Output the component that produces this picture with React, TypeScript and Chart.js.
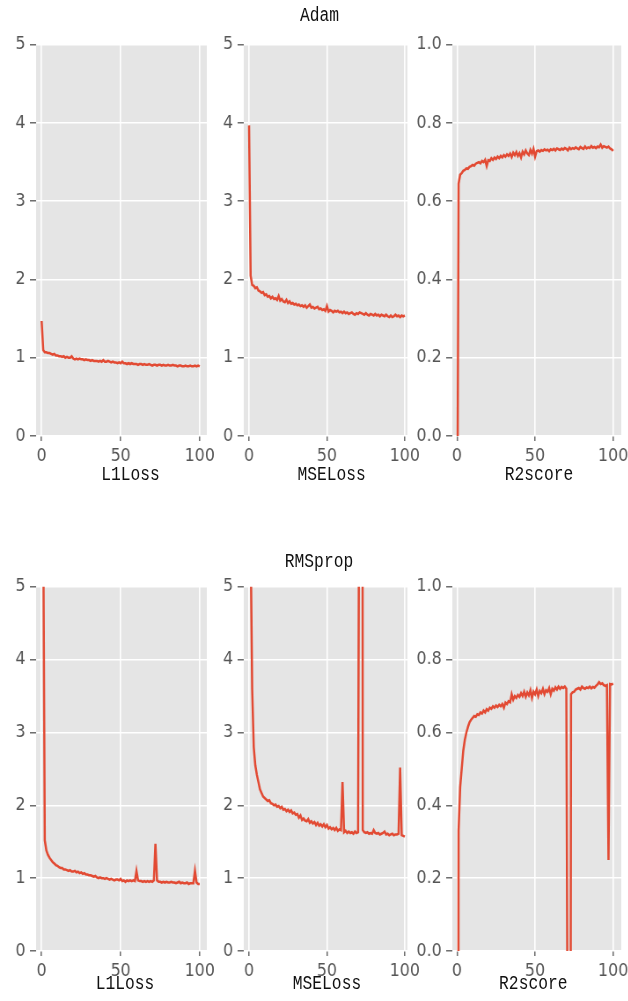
import React, { useEffect, useRef } from 'react';
import { Chart, registerables } from 'chart.js';

Chart.register(...registerables);

// ---------- data ----------
const adamL1 = [
  1.47, 1.10, 1.07, 1.07, 1.06, 1.06, 1.05, 1.04, 1.05, 1.03,
  1.03, 1.02, 1.02, 1.01, 1.02, 1.00, 1.01, 1.00, 1.00, 1.02,
  0.99, 0.98, 0.99, 0.98, 0.99, 0.98, 0.98, 0.97, 0.98, 0.97,
  0.97, 0.96, 0.97, 0.96, 0.96, 0.96, 0.95, 0.96, 0.95, 0.97,
  0.95, 0.95, 0.96, 0.95, 0.94, 0.95, 0.94, 0.94, 0.93, 0.94,
  0.93, 0.95, 0.93, 0.93, 0.92, 0.93, 0.92, 0.93, 0.92, 0.92,
  0.92, 0.91, 0.92, 0.92, 0.91, 0.92, 0.91, 0.91, 0.92, 0.91,
  0.90, 0.91, 0.91, 0.90, 0.91, 0.91, 0.90, 0.91, 0.90, 0.90,
  0.91, 0.90, 0.90, 0.91, 0.90, 0.90, 0.89, 0.90, 0.90, 0.89,
  0.89, 0.90, 0.89, 0.89, 0.90, 0.89, 0.89, 0.90, 0.89, 0.90,
  0.89,
];

const adamMSE = [
  3.97, 2.05, 1.93, 1.92, 1.89, 1.90, 1.86, 1.85, 1.83, 1.84,
  1.80, 1.81, 1.78, 1.79, 1.76, 1.78, 1.75, 1.76, 1.74, 1.79,
  1.73, 1.75, 1.72, 1.71, 1.74, 1.70, 1.72, 1.69, 1.70, 1.68,
  1.69, 1.67, 1.68, 1.66, 1.67, 1.65, 1.67, 1.64, 1.66, 1.68,
  1.64, 1.65, 1.63, 1.64, 1.65, 1.62, 1.63, 1.61, 1.62, 1.60,
  1.66, 1.59, 1.61, 1.60, 1.58, 1.60, 1.59, 1.60, 1.58, 1.59,
  1.57, 1.59, 1.57, 1.58, 1.56, 1.57, 1.58, 1.56, 1.55, 1.57,
  1.56, 1.58, 1.57, 1.56, 1.55, 1.57, 1.55, 1.54, 1.56, 1.55,
  1.54, 1.56, 1.54, 1.55, 1.53, 1.55, 1.54, 1.53, 1.55, 1.53,
  1.52, 1.54, 1.52, 1.53, 1.55, 1.53, 1.54, 1.52, 1.54, 1.53,
  1.54,
];

const adamR2 = [
  -0.5, 0.645, 0.668, 0.672, 0.678, 0.680, 0.684, 0.683, 0.688, 0.690,
  0.693, 0.691, 0.696, 0.698, 0.700, 0.697, 0.703, 0.700, 0.706, 0.690,
  0.705, 0.703, 0.710, 0.706, 0.712, 0.708, 0.714, 0.710, 0.716, 0.712,
  0.718, 0.714, 0.720, 0.716, 0.722, 0.713, 0.724, 0.718, 0.726, 0.716,
  0.723, 0.712, 0.727, 0.720, 0.730, 0.722, 0.718, 0.731, 0.722, 0.734,
  0.714, 0.728, 0.730, 0.727, 0.731, 0.729, 0.733, 0.730, 0.732, 0.728,
  0.733, 0.731, 0.734, 0.730, 0.735, 0.733, 0.731, 0.735, 0.732, 0.736,
  0.734, 0.730, 0.737, 0.733, 0.736, 0.734, 0.738, 0.735, 0.733, 0.739,
  0.736, 0.734, 0.740, 0.735, 0.738, 0.736, 0.741, 0.737, 0.739, 0.736,
  0.740, 0.738, 0.745, 0.737, 0.741, 0.739, 0.737, 0.740, 0.735, 0.733,
  0.729,
];

const rmsL1 = [
  30, 6, 1.52, 1.38, 1.32, 1.28, 1.25, 1.22, 1.20, 1.18,
  1.17, 1.15, 1.14, 1.14, 1.12, 1.12, 1.11, 1.10, 1.11, 1.09,
  1.09, 1.10, 1.08, 1.09, 1.07, 1.08, 1.06, 1.07, 1.05, 1.05,
  1.04, 1.04, 1.03, 1.02, 1.03, 1.01, 1.00, 1.01, 1.00, 1.00,
  0.99, 1.00, 0.99, 0.98, 0.99, 0.98, 0.97, 0.98, 0.98, 0.97,
  0.99, 0.96, 0.97, 0.95, 0.97, 0.96, 0.97, 0.96, 0.97, 0.96,
  1.10, 0.97, 0.96, 0.96, 0.95, 0.96, 0.95, 0.96, 0.95, 0.96,
  0.95, 0.97, 1.47, 0.97, 0.95, 0.95, 0.94, 0.95, 0.94, 0.95,
  0.94, 0.94, 0.95, 0.94, 0.94, 0.93, 0.94, 0.95, 0.93, 0.94,
  0.93, 0.93, 0.94, 0.92, 0.93, 0.93, 0.93, 1.10, 0.94, 0.92,
  0.92,
];

const rmsMSE = [
  40, 5.6, 3.6, 2.8, 2.55, 2.42, 2.32, 2.22, 2.17, 2.12,
  2.10, 2.08, 2.06, 2.07, 2.03, 2.02, 2.00, 2.01, 1.98, 1.99,
  1.96, 1.98, 1.94, 1.95, 1.92, 1.94, 1.91, 1.93, 1.89, 1.90,
  1.87, 1.88, 1.83, 1.86, 1.80, 1.82, 1.79, 1.78, 1.81, 1.76,
  1.78, 1.75, 1.77, 1.73, 1.76, 1.72, 1.74, 1.71, 1.74, 1.70,
  1.73, 1.68, 1.70, 1.67, 1.69, 1.66, 1.69, 1.65, 1.67, 1.66,
  2.32, 1.63, 1.65, 1.62, 1.64, 1.62, 1.63, 1.61, 1.64, 1.62,
  1.63, 9, 40, 1.66, 1.63, 1.62, 1.63, 1.61, 1.62, 1.61,
  1.66, 1.62, 1.61, 1.62, 1.60, 1.61, 1.62, 1.64, 1.60, 1.61,
  1.59, 1.60, 1.61, 1.59, 1.60, 1.60, 1.61, 2.52, 1.59, 1.58,
  1.57,
];

const rmsR2 = [
  -5, 0.33, 0.45, 0.50, 0.55, 0.58, 0.60, 0.615, 0.628, 0.635,
  0.640, 0.645, 0.643, 0.650, 0.648, 0.655, 0.652, 0.660, 0.655, 0.664,
  0.660, 0.668, 0.665, 0.672, 0.668, 0.674, 0.670, 0.676, 0.672, 0.678,
  0.668, 0.682, 0.678, 0.686, 0.683, 0.705, 0.690, 0.700, 0.695, 0.703,
  0.698, 0.708, 0.700, 0.712, 0.698, 0.710, 0.702, 0.716, 0.695, 0.712,
  0.705, 0.718, 0.700, 0.714, 0.708, 0.720, 0.705, 0.716, 0.712, 0.722,
  0.705, 0.720, 0.715, 0.724, 0.718, 0.726, 0.720, 0.725, 0.722, 0.726,
  0.720, -0.5, -3, 0.705, 0.710, 0.712, 0.718, 0.720, 0.722, 0.718,
  0.726, 0.722, 0.720, 0.724, 0.722, 0.726, 0.721, 0.725, 0.723, 0.728,
  0.732, 0.738, 0.733, 0.735, 0.730, 0.728, 0.730, 0.25, 0.733, 0.732,
  0.734,
];

const xTicks = [0, 50, 100];
const lossTicks = [0, 1, 2, 3, 4, 5];
const r2Ticks = [0, 0.2, 0.4, 0.6, 0.8, 1.0];

// ---------- layout ----------
const S = 0.88; // horizontal squeeze of the whole figure
const LM = 60;
const RM = 28;
const TM = 14;
const BM = 34;
const RED = '#E24A33';
const TICK_FONT = { family: "'DejaVu Sans', sans-serif", size: 18 };

type PanelProps = {
  values: number[];
  yTicks: number[];
  yMax: number;
  dec: number;
  xMin: number;
  xMax: number;
  left: number;
  right: number;
  top: number;
  bottom: number;
};

const bgPlugin = {
  id: 'ggbg',
  beforeDraw(c: any) {
    const a = c.chartArea;
    const ctx = c.ctx;
    ctx.save();
    ctx.fillStyle = '#E5E5E5';
    ctx.fillRect(a.left, a.top, a.right - a.left, a.bottom - a.top);
    ctx.restore();
  },
};

function Panel({ values, yTicks, yMax, dec, xMin, xMax, left, right, top, bottom }: PanelProps) {
  const ref = useRef<HTMLCanvasElement>(null);
  const plotL = left / S;
  const plotR = right / S;
  const cw = Math.round(plotR - plotL + LM + RM);
  const ch = Math.round(bottom - top + TM + BM);

  useEffect(() => {
    if (!ref.current) return;
    const chart = new Chart(ref.current, {
      type: 'line',
      data: {
        datasets: [
          {
            data: values.map((v, i) => ({ x: i, y: v })),
            borderColor: RED,
            borderWidth: 2.5,
            pointRadius: 0,
            tension: 0,
            fill: false,
            clip: 0,
          } as any,
        ],
      },
      options: {
        animation: false,
        responsive: false,
        maintainAspectRatio: false,
        devicePixelRatio: 1,
        events: [],
        layout: { padding: { left: 0, top: TM, right: RM, bottom: 0 } },
        plugins: { legend: { display: false }, tooltip: { enabled: false } },
        scales: {
          x: {
            type: 'linear',
            min: xMin,
            max: xMax,
            afterBuildTicks: (s: any) => {
              s.ticks = xTicks.map((v) => ({ value: v }));
            },
            afterFit: (s: any) => {
              s.height = BM;
            },
            border: { display: false },
            grid: {
              color: '#FFFFFF',
              lineWidth: 1.6,
              tickColor: '#555555',
              tickLength: 5,
              tickWidth: 1.3,
              drawTicks: true,
            },
            ticks: {
              color: '#555555',
              font: TICK_FONT,
              padding: 5,
              maxRotation: 0,
              autoSkip: false,
              callback: (v: any) => String(v),
            },
          },
          y: {
            type: 'linear',
            min: 0,
            max: yMax,
            afterBuildTicks: (s: any) => {
              s.ticks = yTicks.map((v) => ({ value: v }));
            },
            afterFit: (s: any) => {
              s.width = LM;
            },
            border: { display: false },
            grid: {
              color: '#FFFFFF',
              lineWidth: 1.6,
              tickColor: '#555555',
              tickLength: 7,
              tickWidth: 1.3,
              drawTicks: true,
            },
            ticks: {
              color: '#555555',
              font: TICK_FONT,
              padding: 5,
              autoSkip: false,
              callback: (v: any) => Number(v).toFixed(dec),
            },
          },
        },
      } as any,
      plugins: [bgPlugin],
    });
    return () => chart.destroy();
  }, []);

  return (
    <canvas
      ref={ref}
      width={cw}
      height={ch}
      style={{ position: 'absolute', left: plotL - LM, top: top - TM, width: cw, height: ch }}
    />
  );
}

function Label({ text, x, y }: { text: string; x: number; y: number }) {
  return (
    <div
      style={{
        position: 'absolute',
        left: x / S,
        top: y,
        transform: 'translate(-50%, -50%) scaleY(1.12)',
        fontFamily: "'Liberation Mono', monospace",
        fontSize: 18.5,
        lineHeight: 1,
        color: '#111111',
        whiteSpace: 'nowrap',
      }}
    >
      {text}
    </div>
  );
}

const COLS = [
  { left: 36.5, right: 207, xMin: -3.5, xMax: 104.5 },
  { left: 244, right: 408, xMin: -3.4, xMax: 101.7 },
  { left: 452, right: 621, xMin: -3.0, xMax: 105.2 },
];
const ROWS = [
  { top: 43, bottom: 436 },
  { top: 585, bottom: 951 },
];

export default function App() {
  const rows = [
    { series: [adamL1, adamMSE, adamR2] },
    { series: [rmsL1, rmsMSE, rmsR2] },
  ];
  return (
    <div
      style={{
        position: 'absolute',
        left: 0,
        top: 0,
        width: 628 / S,
        height: 1001,
        background: '#FFFFFF',
        transform: `scaleX(${S})`,
        transformOrigin: '0 0',
        overflow: 'hidden',
      }}
    >
      {rows.map((r, ri) =>
        r.series.map((vals, ci) => (
          <Panel
            key={`${ri}-${ci}`}
            values={vals}
            yTicks={ci === 2 ? r2Ticks : lossTicks}
            yMax={ci === 2 ? 1 : 5}
            dec={ci === 2 ? 1 : 0}
            xMin={COLS[ci].xMin}
            xMax={COLS[ci].xMax}
            left={COLS[ci].left}
            right={COLS[ci].right}
            top={ROWS[ri].top}
            bottom={ROWS[ri].bottom}
          />
        ))
      )}
      <Label text="Adam" x={319.5} y={17} />
      <Label text="RMSprop" x={319} y={563} />
      <Label text="L1Loss" x={130.5} y={476} />
      <Label text="MSELoss" x={331.7} y={476} />
      <Label text="R2score" x={539} y={476} />
      <Label text="L1Loss" x={125} y={985} />
      <Label text="MSELoss" x={327} y={985} />
      <Label text="R2score" x={533.3} y={985} />
    </div>
  );
}
